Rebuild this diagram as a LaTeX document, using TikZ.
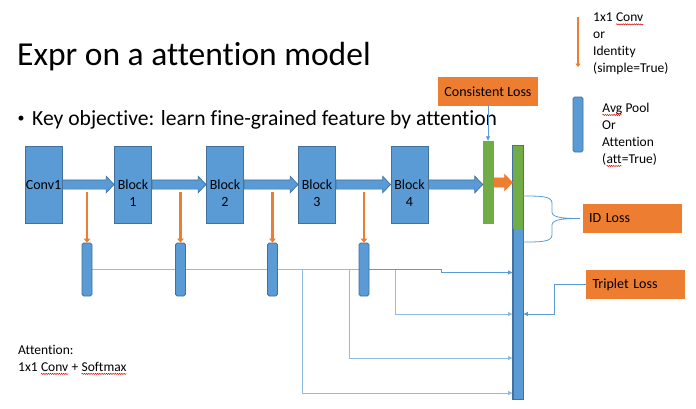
\documentclass[tikz,border=0pt]{standalone}
\usepackage{fontspec}
\setmainfont{Carlito}[Ligatures={NoCommon}]
\usetikzlibrary{arrows.meta,calc,decorations.pathmorphing}

\definecolor{boxblue}{HTML}{5B9BD5}
\definecolor{edgeblue}{HTML}{41719C}
\definecolor{lossorange}{HTML}{ED7D31}
\definecolor{featgreen}{HTML}{70AD47}
\definecolor{linkblue}{HTML}{5B9BD5}
\definecolor{paleblue}{HTML}{9DC3E6}

\pgfdeclarelayer{under}
\pgfsetlayers{under,main}

% wavy red spell-check mark under a word
\newcommand\spellmark[1]{\tikz[baseline=(sw.base)]{%
  \node[inner sep=0pt,outer sep=0pt,anchor=base](sw){#1};%
  \draw[red!85!black,line width=0.45pt,decorate,
        decoration={snake,amplitude=0.6pt,segment length=2.2pt}]
    ([yshift=-2.4pt]sw.base west) -- ([yshift=-2.4pt]sw.base east);}}

% thick block arrow between two nodes (horizontal)
\newcommand\fatarrow[3][]{%
  \filldraw[#1] let \p1=(#2), \p2=(#3) in
    (\x1,\y1+4.6) -- (\x2-8,\y1+4.6) -- (\x2-8,\y1+8.3) -- (\x2,\y1)
    -- (\x2-8,\y1-8.3) -- (\x2-8,\y1-4.6) -- (\x1,\y1-4.6) -- cycle;}

\begin{document}
\begin{tikzpicture}[x=1pt,y=-1pt,
  block/.style={draw=edgeblue,fill=boxblue,line width=0.8pt,
    minimum width=37pt,minimum height=77pt,inner sep=0pt},
  blocktext/.style={font=\fontsize{14}{17}\selectfont,align=center,inner sep=0pt,anchor=north},
  smallbar/.style={draw=edgeblue,fill=boxblue,line width=0.8pt,rounded corners=1.8pt,
    minimum width=10pt,minimum height=53pt,inner sep=0pt},
  greenbar/.style={fill=featgreen,minimum width=11pt,minimum height=83pt,inner sep=0pt},
  featbar/.style={draw=edgeblue,fill=boxblue,line width=0.8pt,
    minimum width=10pt,minimum height=253pt,inner sep=0pt},
  lossbox/.style={fill=lossorange,minimum height=29pt,inner sep=0pt,
    font=\fontsize{14}{17}\selectfont},
  bluearrow/.style={fill=boxblue,draw=edgeblue,line width=0.7pt},
  orangefat/.style={fill=lossorange,draw=lossorange,line width=0.4pt},
  oarrow/.style={draw=lossorange,line width=2.4pt,-{Triangle[length=4pt,width=6.5pt]}},
  link/.style={draw=linkblue,line width=0.9pt},
  palelink/.style={draw=paleblue!80!linkblue,line width=1pt},
  tip/.style={-{Triangle[length=4.5pt,width=4pt]}},
  legend/.style={font=\fontsize{13.5}{17}\selectfont,align=left,inner sep=0pt,anchor=north west},
]
\begin{pgfonlayer}{under}
  \fill[white] (0,0) rectangle (696,408);
\end{pgfonlayer}
\useasboundingbox (0,0) rectangle (696,408);

% headings
\node[anchor=base west,inner sep=0pt,font=\fontsize{33.5}{38}\selectfont] (title) at (17,65)
  {Expr on a attention model};
\node[anchor=base west,inner sep=0pt,font=\fontsize{21.6}{24}\selectfont] (goal) at (32,125)
  {Key objective: learn fine-grained feature by attention};
\node[anchor=base,inner sep=0pt,font=\fontsize{14}{16}\selectfont] (dot) at (21,122) {\textbullet};

% backbone
\node[block] (conv1) at (43.5,184.5) {};
\node[block] (b1) at (133,184.5) {};
\node[block] (b2) at (225,184.5) {};
\node[block] (b3) at (317,184.5) {};
\node[block] (b4) at (409.5,184.5) {};
\node[blocktext,anchor=base] (t0) at ([yshift=-4.5pt]conv1.center) {Conv1};
\node[blocktext] (t1) at ([yshift=5pt]b1.center) {Block\\1};
\node[blocktext] (t2) at ([yshift=5pt]b2.center) {Block\\2};
\node[blocktext] (t3) at ([yshift=5pt]b3.center) {Block\\3};
\node[blocktext] (t4) at ([yshift=5pt]b4.center) {Block\\4};

% pooled features
\node[greenbar] (g1) at (488.5,182.5) {};
\node[featbar] (feat) at (518,272.5) {};
\fill[featgreen] (feat.north west) rectangle ([yshift=-83pt]feat.north east);
\draw[edgeblue,line width=0.8pt] (feat.north west) rectangle (feat.south east);

\fatarrow[bluearrow]{conv1.east}{b1.west}
\fatarrow[bluearrow]{b1.east}{b2.west}
\fatarrow[bluearrow]{b2.east}{b3.west}
\fatarrow[bluearrow]{b3.east}{b4.west}
\fatarrow[bluearrow]{b4.east}{g1.west}
\fatarrow[orangefat]{g1.east}{feat.west}

% side branches
\node[smallbar] (s1) at (87,269.5) {};
\node[smallbar] (s2) at (180.5,269.5) {};
\node[smallbar] (s3) at (272.5,269.5) {};
\node[smallbar] (s4) at (364,269.5) {};
\draw[oarrow] ([yshift=51pt]s1.north) -- (s1.north);
\draw[oarrow] ([yshift=51pt]s2.north) -- (s2.north);
\draw[oarrow] ([yshift=51pt]s3.north) -- (s3.north);
\draw[oarrow] ([yshift=51pt]s4.north) -- (s4.north);

% branch features collected into the final descriptor (drawn behind the bars)
\begin{pgfonlayer}{under}
  \draw[palelink,tip] (s1.east) -| (302,393) -- ([yshift=-120.5pt]feat.west);
  \draw[palelink,tip] (s2.east) -| (349,358) -- ([yshift=-85.5pt]feat.west);
  \draw[palelink,tip] (s3.east) -| (395,314) -- ([yshift=-41.5pt]feat.west);
  \draw[link,tip] (s4.east) -| (441,272.5) -- (feat.west);
\end{pgfonlayer}

% losses
\node[lossbox,minimum width=100pt] (cons) at (488,91.5) {Consistent Loss};
\node[lossbox,text width=87pt,align=left,inner xsep=6pt] (idloss) at (632.5,218.5) {ID Loss};
\node[lossbox,text width=86pt,align=left,inner xsep=6.5pt] (trip) at (635.5,284.5) {Triplet Loss};

\draw[link,line width=0.8pt,tip] (cons.south) -- (cons.south |- g1.north);
\draw[link,line width=0.9pt,tip] (trip.west) -| (554,314) -- ([yshift=-41.5pt]feat.east);
\draw[link,line width=0.8pt]
  ([yshift=76.5pt]feat.east) .. controls (540,196) and (552,196) .. (552,203)
  -- (552,212) .. controls (552,218) and (565,218.5) .. ([xshift=-3pt]idloss.west)
  .. controls (565,218.5) and (552,219) .. (552,225)
  -- (552,235) .. controls (552,242) and (540,242) .. ([yshift=30.5pt]feat.east);

% legend
\coordinate (lega) at (578,17);
\coordinate (legb) at (578,67);
\draw[draw=lossorange,line width=2pt,-{Triangle[length=3.5pt,width=5pt]}] (lega) -- (legb);
\node[legend] (legtxt1) at (593,13) {1x1 \spellmark{Conv}\\or\\Identity\\(simple=True)};
\node[smallbar,minimum height=55pt] (legbar) at (578,124.5) {};
\node[legend] (legtxt2) at (602,103) {\spellmark{Avg} Pool\\Or\\Attention\\(\spellmark{att}=True)};

\node[legend] (attnote) at (18,345) {Attention:\\1x1 \spellmark{Conv} + \spellmark{Softmax}};
\end{tikzpicture}
\end{document}
